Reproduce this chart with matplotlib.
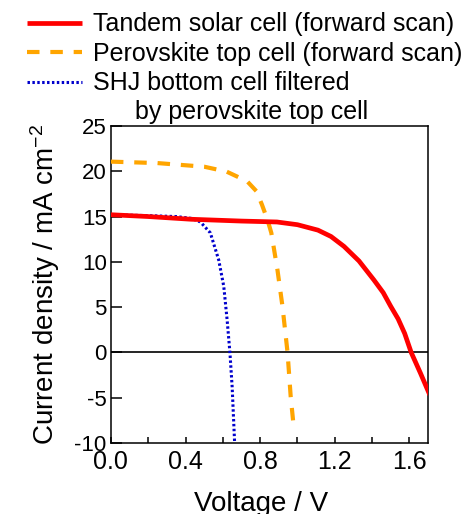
import matplotlib
matplotlib.use("Agg")
import matplotlib.pyplot as plt

plt.rcParams['font.family'] = ['Liberation Sans', 'DejaVu Sans']
plt.rcParams['mathtext.fontset'] = 'custom'
plt.rcParams['mathtext.rm'] = 'Liberation Sans'
plt.rcParams['mathtext.it'] = 'Liberation Sans'
plt.rcParams['axes.unicode_minus'] = False

# Data
tandem_v = [0.0, 0.2, 0.43, 0.7, 0.89, 1.0, 1.11, 1.18, 1.25, 1.33, 1.41, 1.46, 1.50, 1.54, 1.575, 1.61, 1.66, 1.71]
tandem_j = [15.2, 15.0, 14.7, 14.5, 14.4, 14.1, 13.5, 12.8, 11.7, 10.1, 8.0, 6.6, 5.1, 3.7, 2.1, 0.0, -2.3, -4.7]

perov_v = [0.0, 0.25, 0.50, 0.62, 0.73, 0.78, 0.81, 0.84, 0.86, 0.893, 0.92, 0.947, 0.964, 0.982]
perov_j = [21.06, 20.9, 20.5, 19.96, 18.9, 17.8, 16.3, 14.6, 13.2, 9.1, 5.06, 0.0, -4.9, -8.6]

shj_v = [0.0, 0.2, 0.35, 0.43, 0.48, 0.533, 0.578, 0.605, 0.623, 0.638, 0.65, 0.663]
shj_j = [15.2, 15.1, 15.0, 14.8, 14.4, 13.2, 10.2, 7.3, 3.6, 0.0, -3.8, -9.85]

labels = ["Tandem solar cell (forward scan)",
          "Perovskite top cell (forward scan)",
          "SHJ bottom cell filtered"]
label_extra = "by perovskite top cell"

xticks = [0.0, 0.4, 0.8, 1.2, 1.6]
yticks = [25, 20, 15, 10, 5, 0, -5, -10]

fig = plt.figure(figsize=(4.68, 5.14), dpi=100)
ax = fig.add_axes([0.237, 0.138, 0.6775, 0.617])

ax.axhline(0, color='black', lw=1.2, zorder=1)
l1, = ax.plot(tandem_v, tandem_j, color='#ff0000', lw=3.4, solid_capstyle='butt', zorder=4)
l2, = ax.plot(perov_v, perov_j, color='#ffa500', lw=3.0, dashes=(3.0, 2.6), zorder=3)
l3, = ax.plot(shj_v, shj_j, color='#0000cc', lw=2.2, dashes=(0.8, 0.8), zorder=3)

ax.set_xlim(0, 1.7)
ax.set_ylim(-10, 25)
ax.set_xticks(xticks)
ax.set_xticklabels([f"{t:.1f}" for t in xticks])
ax.set_xticks([0.2, 0.6, 1.0, 1.4], minor=True)
ax.set_yticks(yticks)
ax.tick_params(axis='both', which='both', direction='in', width=1.1, colors='black')
ax.tick_params(axis='x', which='both', length=4, pad=5, labelsize=18)
ax.tick_params(axis='y', which='major', length=8, pad=3, labelsize=16)
for s in ax.spines.values():
    s.set_linewidth(1.1)

ax.set_xlabel("Voltage / V", fontsize=20)
ax.xaxis.set_label_coords(0.475, -0.152)
ax.set_ylabel("Current density / mA cm$^{-2}$", fontsize=20, labelpad=9)

handles = [l1, l2, l3]
leg = fig.legend(handles, labels, loc='upper left', bbox_to_anchor=(0.0577, 0.976),
                 frameon=False, fontsize=18, handlelength=2.2, handletextpad=0.45,
                 labelspacing=0.22, borderaxespad=0.0, borderpad=0.0)
fig.text(0.288, 0.783, label_extra, fontsize=18, ha='left', va='center')

fig.savefig("out.png", dpi=100)
